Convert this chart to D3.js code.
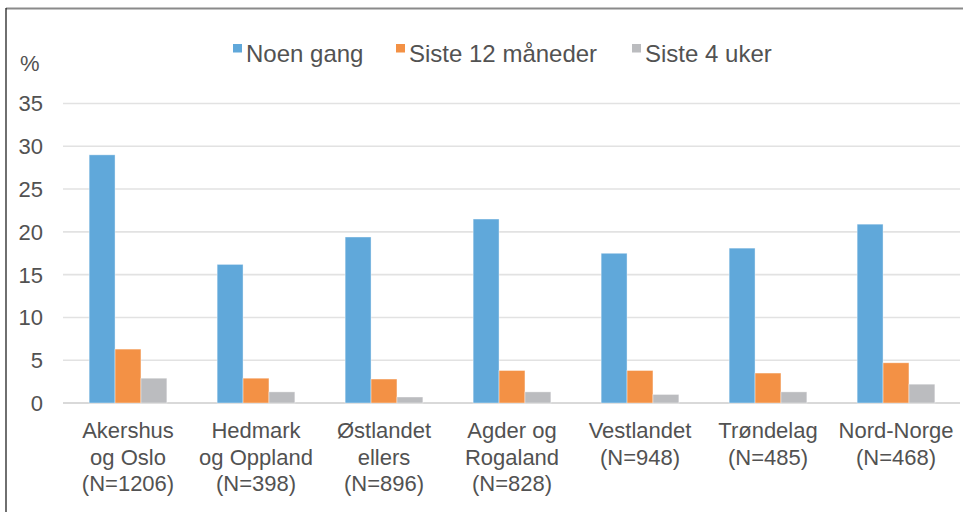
<!DOCTYPE html>
<html>
<head>
<meta charset="utf-8">
<script src="https://cdn.jsdelivr.net/npm/d3@7"></script>
<style>
  body { margin: 0; background: #fff; }
  text { font-family: "Liberation Sans", Arial, sans-serif; fill: #525252; }
</style>
</head>
<body>
<div id="chart"></div>
<script>
// Region labels (each line of the x-axis label)
var regions = [
  ["Akershus", "og Oslo", "(N=1206)"],
  ["Hedmark", "og Oppland", "(N=398)"],
  ["Østlandet", "ellers", "(N=896)"],
  ["Agder og", "Rogaland", "(N=828)"],
  ["Vestlandet", "(N=948)"],
  ["Trøndelag", "(N=485)"],
  ["Nord-Norge", "(N=468)"]
];
var seriesNames = ["Noen gang", "Siste 12 måneder", "Siste 4 uker"];
var noenGang   = [29.0, 16.2, 19.4, 21.5, 17.5, 18.1, 20.9];
var siste12    = [6.3, 2.9, 2.8, 3.8, 3.8, 3.5, 4.7];
var siste4     = [2.9, 1.3, 0.7, 1.3, 1.0, 1.3, 2.2];
var yTicks     = [0, 5, 10, 15, 20, 25, 30, 35];
var colors     = ["#60a8da", "#f39145", "#bbbcbf"];

var width = 963, height = 512;
var margin = {left: 64, right: 3, top: 103.5, bottom: 109};

var svg = d3.select("#chart").append("svg")
  .attr("width", width)
  .attr("height", height);

// frame (top grey line, left dark line)
svg.append("line")
  .attr("x1", 6).attr("x2", width).attr("y1", 8.5).attr("y2", 8.5)
  .style("stroke", "#8a8a8a").style("stroke-width", 2);
svg.append("line")
  .attr("x1", 6).attr("x2", 6).attr("y1", 8).attr("y2", height)
  .style("stroke", "#222").style("stroke-width", 1.3);

var x0 = d3.scaleBand()
  .domain(d3.range(regions.length))
  .range([margin.left, width - margin.right]);

var x1 = d3.scaleBand()
  .domain(d3.range(seriesNames.length))
  .range([0, x0.bandwidth()])
  .paddingOuter(0.97);

var y = d3.scaleLinear()
  .domain([0, 35])
  .range([height - margin.bottom, margin.top]);

// gridlines
svg.selectAll(".grid")
  .data(yTicks)
  .enter().append("line")
  .attr("class", "grid")
  .attr("x1", 63)
  .attr("x2", width - margin.right)
  .attr("y1", function(d) { return y(d); })
  .attr("y2", function(d) { return y(d); })
  .style("stroke", function(d) { return d === 0 ? "#d9d9d9" : "#e2e2e2"; })
  .style("stroke-width", function(d) { return d === 0 ? 2 : 1.6; });

// y tick labels
svg.selectAll(".ylab")
  .data(yTicks)
  .enter().append("text")
  .attr("class", "ylab")
  .attr("x", 43)
  .attr("y", function(d) { return y(d); })
  .attr("dy", "0.36em")
  .style("text-anchor", "end")
  .style("font-size", "22px")
  .text(function(d) { return d; });

svg.append("text")
  .attr("x", 20)
  .attr("y", 71)
  .style("font-size", "22px")
  .text("%");

// bars
var series = [noenGang, siste12, siste4];
var groups = svg.selectAll(".group")
  .data(regions)
  .enter().append("g")
  .attr("class", "group")
  .attr("transform", function(d, i) { return "translate(" + x0(i) + ",0)"; });

groups.selectAll("rect")
  .data(function(d, i) { return series.map(function(s, k) { return {k: k, value: s[i]}; }); })
  .enter().append("rect")
  .attr("x", function(d) { return x1(d.k); })
  .attr("width", x1.bandwidth())
  .attr("y", function(d) { return y(d.value); })
  .attr("height", function(d) { return y(0) - y(d.value); })
  .style("fill", function(d) { return colors[d.k]; })
  .style("stroke", "#fff")
  .style("stroke-opacity", 0.5)
  .style("stroke-width", 0.8);

// x labels
groups.append("text")
  .attr("x", x0.bandwidth() / 2)
  .attr("y", 438)
  .style("text-anchor", "middle")
  .style("font-size", "22px")
  .selectAll("tspan")
  .data(function(d) { return d; })
  .enter().append("tspan")
  .attr("x", x0.bandwidth() / 2)
  .attr("dy", function(d, i) { return i === 0 ? 0 : 26.6; })
  .text(function(d) { return d; });

// legend
var legendX = [233, 396, 632];
var legend = svg.selectAll(".legend")
  .data(seriesNames)
  .enter().append("g")
  .attr("class", "legend")
  .attr("transform", function(d, i) { return "translate(" + legendX[i] + ",0)"; });

legend.append("rect")
  .attr("y", 44)
  .attr("width", 9)
  .attr("height", 8.5)
  .style("fill", function(d, i) { return colors[i]; });

legend.append("text")
  .attr("x", 13)
  .attr("y", 62)
  .style("font-size", "24px")
  .text(function(d) { return d; });
</script>
</body>
</html>
